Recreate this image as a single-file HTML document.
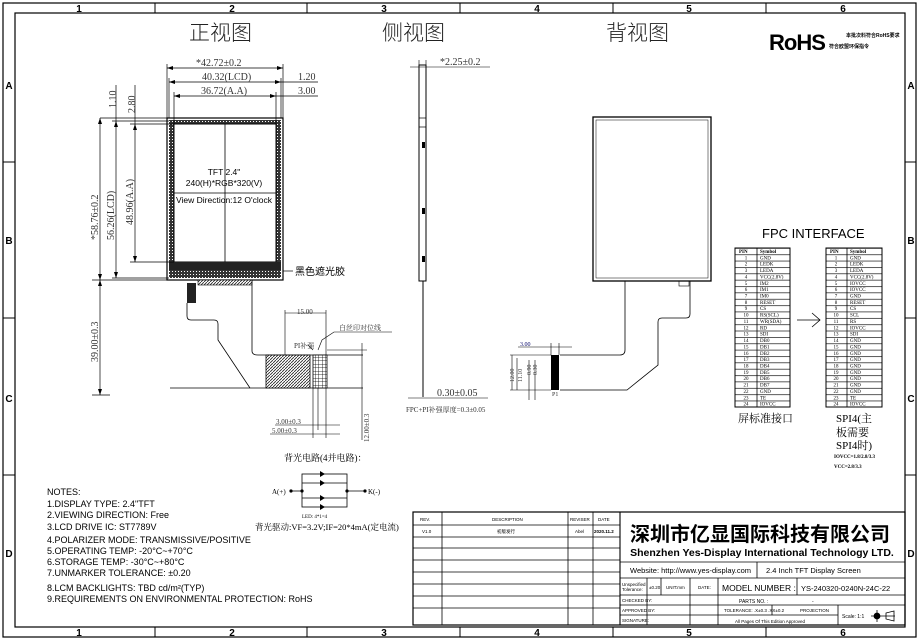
<!DOCTYPE html>
<html><head><meta charset="utf-8"><style>
html,body{margin:0;padding:0;background:#fff}
svg{display:block}
.s{font-family:"Liberation Serif","Noto Serif CJK SC",serif}
.a{font-family:"Liberation Sans","Noto Sans CJK SC",sans-serif}
</style></head><body>
<svg width="920" height="640" viewBox="0 0 920 640" xmlns="http://www.w3.org/2000/svg" fill="none" stroke="#000" stroke-width="1">
<defs>
<pattern id="rows" width="10" height="6.36" patternUnits="userSpaceOnUse" y="248"><line x1="0" y1="0.3" x2="10" y2="0.3" stroke="#000" stroke-width="0.7"/></pattern>
<pattern id="hatch" width="3" height="3" patternUnits="userSpaceOnUse"><rect width="3" height="3" fill="#fff" stroke="none"/><path d="M0,3 L3,0" stroke="#222" stroke-width="0.8"/></pattern>
<pattern id="dots" width="3" height="3" patternUnits="userSpaceOnUse"><rect width="3" height="3" fill="#333" stroke="none"/><rect x="1" y="1" width="1" height="1" fill="#fff" stroke="none"/></pattern>
<pattern id="grid" width="3.5" height="3.5" patternUnits="userSpaceOnUse"><rect width="3.5" height="3.5" fill="#fff" stroke="none"/><path d="M0,0H3.5M0,0V3.5" stroke="#000" stroke-width="0.8"/></pattern>
</defs>
<!-- frame -->
<rect x="3" y="3" width="913" height="634" stroke-width="1.2"/>
<rect x="15" y="13" width="890" height="614" stroke-width="1.2"/>
<g stroke-width="1">
<line x1="155" y1="3" x2="155" y2="13"/><line x1="307" y1="3" x2="307" y2="13"/><line x1="460" y1="3" x2="460" y2="13"/><line x1="613" y1="3" x2="613" y2="13"/><line x1="766" y1="3" x2="766" y2="13"/>
<line x1="155" y1="627" x2="155" y2="637"/><line x1="307" y1="627" x2="307" y2="637"/><line x1="460" y1="627" x2="460" y2="637"/><line x1="613" y1="627" x2="613" y2="637"/><line x1="766" y1="627" x2="766" y2="637"/>
<line x1="3" y1="162" x2="15" y2="162"/><line x1="3" y1="318" x2="15" y2="318"/><line x1="3" y1="475" x2="15" y2="475"/>
<line x1="905" y1="162" x2="916" y2="162"/><line x1="905" y1="318" x2="916" y2="318"/><line x1="905" y1="475" x2="916" y2="475"/>
</g>
<g class="a" fill="#000" stroke="none" font-size="10" font-weight="bold" text-anchor="middle">
<text x="79" y="12">1</text><text x="232" y="12">2</text><text x="384" y="12">3</text><text x="537" y="12">4</text><text x="689" y="12">5</text><text x="843" y="12">6</text>
<text x="79" y="636">1</text><text x="232" y="636">2</text><text x="384" y="636">3</text><text x="537" y="636">4</text><text x="689" y="636">5</text><text x="843" y="636">6</text>
<text x="9" y="89">A</text><text x="9" y="244">B</text><text x="9" y="402">C</text><text x="9" y="557">D</text>
<text x="911" y="89">A</text><text x="911" y="244">B</text><text x="911" y="402">C</text><text x="911" y="557">D</text>
</g>
<!-- titles -->
<g class="a" fill="#222" stroke="none" font-size="21" font-weight="300">
<text x="189" y="40">正视图</text><text x="382" y="40">侧视图</text><text x="606" y="40">背视图</text>
</g>
<!-- RoHS -->
<text x="769" y="50" class="a" font-size="22" font-weight="900" fill="#000" stroke="none" letter-spacing="-1">RoHS</text>
<g class="a" fill="#000" stroke="none" font-size="5" font-weight="bold"><text x="846" y="37">本批次料符合RoHS要求</text><text x="829" y="48">符合欧盟环保指令</text></g>

<!-- FRONT VIEW -->
<rect x="167" y="118" width="116" height="162" stroke-width="1.2"/>
<rect x="169" y="120" width="112" height="158" fill="url(#dots)" stroke="none"/>
<rect x="174" y="124" width="102" height="138" fill="#fff" stroke="#000"/>
<rect x="169" y="262" width="112" height="16" fill="#222" stroke="none"/>
<rect x="169" y="270" width="112" height="8" fill="url(#dots)" stroke="none"/>
<line x1="225" y1="124" x2="225" y2="262" stroke-width="0.8"/>
<line x1="174" y1="193" x2="276" y2="193" stroke-width="0.8"/>
<g class="a" fill="#000" stroke="none" font-size="8.5" text-anchor="middle">
<text x="224" y="175">TFT 2.4"</text><text x="224" y="186">240(H)*RGB*320(V)</text><text x="224" y="203">View Direction:12 O'clock</text>
</g>
<!-- top dims -->
<g stroke-width="0.7">
<line x1="167" y1="64" x2="167" y2="118"/><line x1="283" y1="64" x2="283" y2="118"/>
<line x1="169" y1="78" x2="169" y2="118"/><line x1="281" y1="78" x2="281" y2="118"/>
<line x1="174" y1="92" x2="174" y2="124"/><line x1="276" y1="92" x2="276" y2="124"/>
<line x1="167" y1="68" x2="283" y2="68"/><line x1="169" y1="82" x2="318" y2="82"/><line x1="174" y1="96" x2="318" y2="96"/>
<line x1="100" y1="118" x2="167" y2="118"/><line x1="112" y1="121" x2="169" y2="121"/><line x1="130" y1="124" x2="174" y2="124"/>
<line x1="130" y1="262" x2="174" y2="262"/><line x1="112" y1="278" x2="169" y2="278"/><line x1="92" y1="280" x2="167" y2="280"/>
<line x1="116" y1="85" x2="116" y2="278"/><line x1="135" y1="85" x2="135" y2="262"/><line x1="100" y1="118" x2="100" y2="395"/>
<line x1="92" y1="395" x2="110" y2="395"/>
</g>
<g fill="#000" stroke="none">
<path d="M167,68l6,-2v4z M283,68l-6,-2v4z M169,82l6,-2v4z M281,82l-6,-2v4z M174,96l6,-2v4z M276,96l-6,-2v4z"/>
<path d="M116,121l-2,6h4z M116,278l-2,-6h4z M135,124l-2,6h4z M135,262l-2,-6h4z M100,118l-2,6h4z M100,280l-2,-6h4z M100,280l-2,6h4z M100,395l-2,-6h4z"/>
</g>
<g class="s" fill="#333" stroke="none" font-size="10">
<text x="196" y="66">*42.72±0.2</text><text x="202" y="80">40.32(LCD)</text><text x="201" y="94">36.72(A.A)</text>
<text x="298" y="80">1.20</text><text x="298" y="94">3.00</text>
<text transform="translate(116,108) rotate(-90)">1.10</text><text transform="translate(135,113) rotate(-90)">2.80</text>
<text transform="translate(114,240) rotate(-90)">56.26(LCD)</text><text transform="translate(133,225) rotate(-90)">48.96(A.A)</text>
<text transform="translate(98,240) rotate(-90)">*58.76±0.2</text><text transform="translate(98,362) rotate(-90)">39.00±0.3</text>
</g>
<line x1="283" y1="271" x2="293" y2="271" stroke-width="0.7"/>
<text x="295" y="275" class="a" font-size="10" fill="#000" stroke="none">黑色遮光胶</text>
<!-- FPC front -->
<rect x="187" y="283" width="9" height="20" fill="#222" stroke="none"/>
<rect x="198" y="280" width="54" height="5" fill="url(#hatch)" stroke-width="0.6"/>
<path d="M187,303 V316 Q187,320 191,320 H214 Q218,320 218,324 V340 L250,388" stroke-width="0.8"/>
<path d="M252,280 V351 Q252,355 258,355 H363" stroke-width="0.8"/>
<line x1="170" y1="388" x2="363" y2="388" stroke-width="0.8"/>
<rect x="266" y="355" width="44" height="33" fill="url(#hatch)" stroke-width="0.8"/>
<rect x="313" y="355" width="14" height="33" fill="url(#grid)" stroke-width="0.8"/>
<g stroke-width="0.6">
<line x1="285" y1="310" x2="285" y2="355"/><line x1="326" y1="310" x2="326" y2="355"/><line x1="285" y1="313" x2="326" y2="313"/>
<line x1="362" y1="343" x2="362" y2="440"/><line x1="327" y1="350" x2="367" y2="350"/>
<line x1="313" y1="388" x2="313" y2="438"/><line x1="318" y1="388" x2="318" y2="430"/><line x1="326" y1="388" x2="326" y2="438"/>
<line x1="275" y1="425" x2="340" y2="425"/><line x1="270" y1="434" x2="340" y2="434"/>
<path d="M318,350 L322,340 L334,332 H392"/><path d="M313,350 L308,345"/>
</g>
<g class="s" fill="#333" stroke="none" font-size="7">
<text x="297" y="314">15.00</text><text x="339" y="330">白丝印对位线</text><text x="294" y="348">PI补强</text>
<text x="276" y="424">3.00±0.3</text><text x="272" y="433">5.00±0.3</text>
<text transform="translate(369,442) rotate(-90)">12.00±0.3</text>
</g>
<!-- LED circuit -->
<text x="284" y="461" class="s" font-size="9" fill="#000" stroke="none">背光电路(4并电路)：</text>
<g stroke-width="0.8">
<rect x="302" y="474" width="45" height="33"/><line x1="302" y1="483" x2="347" y2="483"/><line x1="302" y1="498" x2="347" y2="498"/>
<line x1="291" y1="491" x2="302" y2="491"/><line x1="347" y1="491" x2="365" y2="491"/>
</g>
<g fill="#000" stroke="none"><circle cx="291" cy="491" r="1.6"/><circle cx="302" cy="491" r="1.6"/><circle cx="347" cy="491" r="1.6"/><circle cx="365" cy="491" r="1.6"/>
<path d="M320,471l5,3l-5,3z M320,480l5,3l-5,3z M320,495l5,3l-5,3z M320,504l5,3l-5,3z"/></g>
<g class="s" fill="#000" stroke="none" font-size="7"><text x="272" y="494">A(+)</text><text x="368" y="494">K(-)</text><text x="302" y="518" font-size="5">LED: 4*1=4</text></g>
<text x="255" y="530" class="s" font-size="8.5" fill="#000" stroke="none">背光驱动:VF=3.2V;IF=20*4mA(定电流)</text>

<!-- SIDE VIEW -->
<rect x="419" y="65" width="7" height="216" stroke-width="1"/>
<rect x="419" y="118" width="7" height="9" stroke-width="0.7"/>
<g fill="#000" stroke="none"><rect x="422" y="142" width="3" height="6"/><rect x="422" y="208" width="3" height="6"/><rect x="422" y="256" width="3" height="6"/></g>
<line x1="423" y1="281" x2="423" y2="397" stroke-width="1"/>
<g stroke-width="0.6"><line x1="410" y1="67" x2="490" y2="67"/><line x1="419" y1="60" x2="419" y2="70"/><line x1="426" y1="60" x2="426" y2="70"/>
<line x1="408" y1="398" x2="488" y2="398"/></g>
<g class="s" fill="#333" stroke="none"><text x="440" y="65" font-size="10">*2.25±0.2</text><text x="437" y="396" font-size="10">0.30±0.05</text><text x="406" y="412" font-size="7">FPC+PI补强厚度=0.3±0.05</text></g>

<!-- BACK VIEW -->
<rect x="593" y="117" width="118" height="164" stroke-width="1.3"/>
<rect x="596" y="120" width="112" height="158" stroke-width="0.5"/>
<path d="M625,281 V350 Q625,355 620,355 H560" stroke-width="0.8"/>
<path d="M690,281 V314 Q690,318 686,318 H662 Q658,318 658,322 V365 L627,390 H560" stroke-width="0.8"/>
<rect x="679" y="281" width="10" height="5" stroke-width="0.6"/>
<rect x="551" y="355" width="8" height="35" fill="#000" stroke="none"/>
<g stroke-width="0.6"><line x1="510" y1="355" x2="551" y2="355"/><line x1="510" y1="390" x2="551" y2="390"/>
<line x1="512" y1="355" x2="512" y2="390"/><line x1="517" y1="358" x2="517" y2="390"/><line x1="529" y1="360" x2="529" y2="400"/><line x1="535" y1="360" x2="535" y2="400"/>
<line x1="518" y1="347" x2="572" y2="347"/><line x1="551" y1="343" x2="551" y2="355"/><line x1="559" y1="343" x2="559" y2="355"/></g>
<g class="s" fill="#333" stroke="none" font-size="6"><text x="520" y="346" fill="#006">3.00</text><text x="552" y="396">P1</text>
<text transform="translate(514,382) rotate(-90)">12.00</text><text transform="translate(522,382) rotate(-90)">11.10</text><text transform="translate(531,375) rotate(-90)">0.90</text><text transform="translate(537,375) rotate(-90)">0.30</text></g>

<!-- FPC INTERFACE -->
<text x="762" y="238" class="a" font-size="13" fill="#000" stroke="none" font-weight="300">FPC INTERFACE</text>
<rect x="735" y="248" width="55" height="159" fill="url(#rows)" stroke-width="1"/>
<line x1="757" y1="248" x2="757" y2="407" stroke-width="0.8"/>
<rect x="826" y="248" width="56" height="159" fill="url(#rows)" stroke-width="1"/>
<line x1="847" y1="248" x2="847" y2="407" stroke-width="0.8"/>
<path d="M797,320 H820 M812,313 L820,320 L812,327" stroke-width="0.8"/>
<g class="s" fill="#000" stroke="none" font-size="5" font-weight="bold">
<text x="739" y="253">PIN</text><text x="760" y="253">Symbol</text><text x="830" y="253">PIN</text><text x="850" y="253">Symbol</text>
</g>
<g class="s" fill="#000" stroke="none" font-size="5">
<g text-anchor="middle">
<text x="746" y="259.4">1</text><text x="746" y="265.7">2</text><text x="746" y="272.1">3</text><text x="746" y="278.4">4</text><text x="746" y="284.8">5</text><text x="746" y="291.2">6</text><text x="746" y="297.5">7</text><text x="746" y="303.9">8</text><text x="746" y="310.2">9</text><text x="746" y="316.6">10</text><text x="746" y="323">11</text><text x="746" y="329.3">12</text><text x="746" y="335.7">13</text><text x="746" y="342">14</text><text x="746" y="348.4">15</text><text x="746" y="354.8">16</text><text x="746" y="361.1">17</text><text x="746" y="367.5">18</text><text x="746" y="373.8">19</text><text x="746" y="380.2">20</text><text x="746" y="386.6">21</text><text x="746" y="392.9">22</text><text x="746" y="399.3">23</text><text x="746" y="405.6">24</text>
<text x="836" y="259.4">1</text><text x="836" y="265.7">2</text><text x="836" y="272.1">3</text><text x="836" y="278.4">4</text><text x="836" y="284.8">5</text><text x="836" y="291.2">6</text><text x="836" y="297.5">7</text><text x="836" y="303.9">8</text><text x="836" y="310.2">9</text><text x="836" y="316.6">10</text><text x="836" y="323">11</text><text x="836" y="329.3">12</text><text x="836" y="335.7">13</text><text x="836" y="342">14</text><text x="836" y="348.4">15</text><text x="836" y="354.8">16</text><text x="836" y="361.1">17</text><text x="836" y="367.5">18</text><text x="836" y="373.8">19</text><text x="836" y="380.2">20</text><text x="836" y="386.6">21</text><text x="836" y="392.9">22</text><text x="836" y="399.3">23</text><text x="836" y="405.6">24</text>
</g>
<text x="760" y="259.4">GND</text><text x="760" y="265.7">LEDK</text><text x="760" y="272.1">LEDA</text><text x="760" y="278.4">VCC(2.8V)</text><text x="760" y="284.8">IM2</text><text x="760" y="291.2">IM1</text><text x="760" y="297.5">IM0</text><text x="760" y="303.9">RESET</text><text x="760" y="310.2">CS</text><text x="760" y="316.6">RS(SCL)</text><text x="760" y="323">WR(SDA)</text><text x="760" y="329.3">RD</text><text x="760" y="335.7">SDI</text><text x="760" y="342">DB0</text><text x="760" y="348.4">DB1</text><text x="760" y="354.8">DB2</text><text x="760" y="361.1">DB3</text><text x="760" y="367.5">DB4</text><text x="760" y="373.8">DB5</text><text x="760" y="380.2">DB6</text><text x="760" y="386.6">DB7</text><text x="760" y="392.9">GND</text><text x="760" y="399.3">TE</text><text x="760" y="405.6">IOVCC</text>
<text x="850" y="259.4">GND</text><text x="850" y="265.7">LEDK</text><text x="850" y="272.1">LEDA</text><text x="850" y="278.4">VCC(2.8V)</text><text x="850" y="284.8">IOVCC</text><text x="850" y="291.2">IOVCC</text><text x="850" y="297.5">GND</text><text x="850" y="303.9">RESET</text><text x="850" y="310.2">CS</text><text x="850" y="316.6">SCL</text><text x="850" y="323">RS</text><text x="850" y="329.3">IOVCC</text><text x="850" y="335.7">SDI</text><text x="850" y="342">GND</text><text x="850" y="348.4">GND</text><text x="850" y="354.8">GND</text><text x="850" y="361.1">GND</text><text x="850" y="367.5">GND</text><text x="850" y="373.8">GND</text><text x="850" y="380.2">GND</text><text x="850" y="386.6">GND</text><text x="850" y="392.9">GND</text><text x="850" y="399.3">TE</text><text x="850" y="405.6">IOVCC</text>
</g>
<g class="s" fill="#000" stroke="none" font-size="11">
<text x="738" y="422">屏标准接口</text><text x="836" y="422">SPI4(主</text><text x="836" y="436">板需要</text><text x="836" y="449">SPI4时)</text>
<text x="834" y="458" font-size="5" font-weight="bold">IOVCC=1.8/2.8/3.3</text><text x="834" y="468" font-size="5" font-weight="bold">VCC=2.8/3.3</text>
</g>

<!-- NOTES -->
<g class="a" fill="#000" stroke="none" font-size="9" letter-spacing="0">
<text x="47" y="495">NOTES:</text>
<text x="47" y="507">1.DISPLAY  TYPE:   2.4"TFT</text>
<text x="47" y="518">2.VIEWING  DIRECTION: Free</text>
<text x="47" y="530">3.LCD  DRIVE  IC: ST7789V</text>
<text x="47" y="543">4.POLARIZER  MODE: TRANSMISSIVE/POSITIVE</text>
<text x="47" y="554">5.OPERATING  TEMP:  -20°C~+70°C</text>
<text x="47" y="565">6.STORAGE  TEMP:  -30°C~+80°C</text>
<text x="47" y="576">7.UNMARKER  TOLERANCE:  ±0.20</text>
<text x="47" y="591">8.LCM  BACKLIGHTS:  TBD  cd/m²(TYP)</text>
<text x="47" y="602">9.REQUIREMENTS  ON  ENVIRONMENTAL  PROTECTION:  RoHS</text>
</g>

<!-- TITLE BLOCK -->
<g stroke-width="0.8">
<rect x="413" y="512" width="492" height="113" stroke-width="1.2"/>
<line x1="442" y1="512" x2="442" y2="625"/><line x1="568" y1="512" x2="568" y2="625"/><line x1="593" y1="512" x2="593" y2="625"/><line x1="620" y1="512" x2="620" y2="625" stroke-width="1.1"/>
<line x1="413" y1="525" x2="620" y2="525"/><line x1="413" y1="537" x2="620" y2="537"/><line x1="413" y1="548" x2="620" y2="548"/><line x1="413" y1="560" x2="620" y2="560"/><line x1="413" y1="572" x2="620" y2="572"/><line x1="413" y1="584" x2="620" y2="584"/><line x1="413" y1="596" x2="620" y2="596"/><line x1="413" y1="608" x2="620" y2="608"/>
<line x1="620" y1="562" x2="905" y2="562"/><line x1="620" y1="578" x2="905" y2="578"/><line x1="620" y1="595" x2="905" y2="595"/><line x1="620" y1="605" x2="905" y2="605"/><line x1="620" y1="615" x2="838" y2="615"/>
<line x1="757" y1="562" x2="757" y2="578"/>
<line x1="647" y1="578" x2="647" y2="625"/><line x1="661" y1="578" x2="661" y2="595"/><line x1="690" y1="578" x2="690" y2="625"/><line x1="718" y1="578" x2="718" y2="625"/><line x1="797" y1="578" x2="797" y2="595"/>
<line x1="838" y1="605" x2="838" y2="625"/><line x1="772" y1="605" x2="772" y2="615"/>
</g>
<g class="a" fill="#000" stroke="none" font-size="4.5">
<text x="420" y="521">REV.</text><text x="492" y="521">DESCRIPTION</text><text x="570" y="521">REVISER</text><text x="598" y="521">DATE</text>
<text x="422" y="533">V1.0</text><text x="497" y="533">初版发行</text><text x="575" y="533">Abel</text><text x="594" y="533" font-weight="bold">2020.11.2</text>
<text x="622" y="586">Unspecified</text><text x="622" y="591">Tolerance:</text><text x="649" y="589">±0.20</text><text x="666" y="589">UNIT:mm</text><text x="698" y="589">DATE:</text>
<text x="622" y="602">CHECKED BY:</text><text x="622" y="612">APPROVED BY:</text><text x="622" y="622">SIGNATURE:</text>
<text x="724" y="612">TOLERANCE:  .X±0.3 .XX±0.2</text><text x="800" y="612">PROJECTION</text>
<text x="735" y="623">All Pages Of This Edition Approved</text>
</g>
<text x="760" y="541" text-anchor="middle" class="a" font-size="20" font-weight="bold" fill="#000" stroke="none">深圳市亿显国际科技有限公司</text>
<text x="762" y="556" text-anchor="middle" class="a" font-size="10.5" font-weight="bold" fill="#000" stroke="none">Shenzhen Yes-Display International Technology LTD.</text>
<g class="a" fill="#000" stroke="none" font-size="7.5">
<text x="630" y="573">Website: http://www.yes-display.com</text><text x="766" y="573">2.4 Inch TFT Display Screen</text>
<text x="722" y="591" font-size="8.5">MODEL NUMBER :</text><text x="801" y="591">YS-240320-0240N-24C-22</text>
<text x="739" y="603" font-size="5">PARTS NO. :</text><text x="812" y="603" font-size="5">-</text>
<text x="842" y="618" font-size="5">Scale: 1:1</text>
</g>
<g stroke-width="0.8"><circle cx="877" cy="616" r="3" fill="#000"/><line x1="871" y1="616" x2="895" y2="616"/><line x1="877" y1="610" x2="877" y2="622"/><path d="M886,613 L894,611 V621 L886,619 Z"/></g>
</svg>
</body></html>
